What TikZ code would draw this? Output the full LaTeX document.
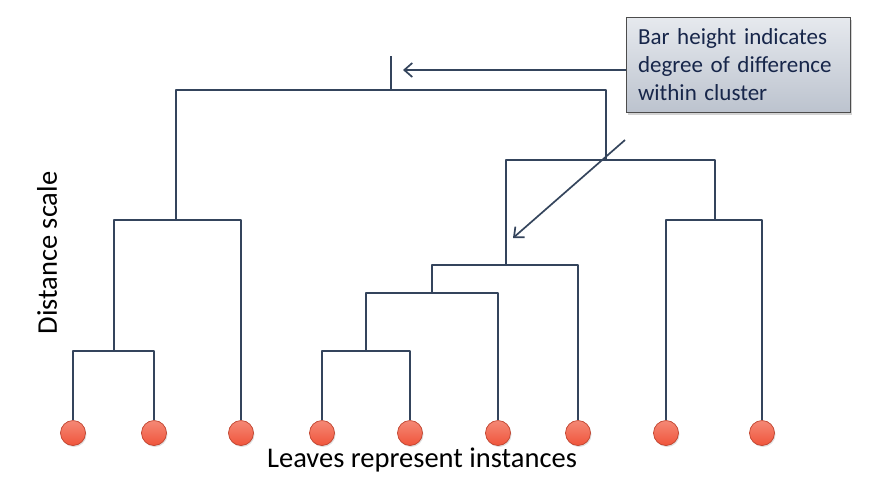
\documentclass[tikz,border=0pt]{standalone}
\usepackage{fontspec}
\setmainfont{Carlito}
\usetikzlibrary{arrows.meta,shadows}

\definecolor{barcol}{HTML}{34445C}
\definecolor{leafcol}{HTML}{F0553B}
\definecolor{notetext}{HTML}{17264A}
\definecolor{notetop}{HTML}{E6E9EE}
\definecolor{notebot}{HTML}{BCC3CE}

\tikzset{
  bar/.style={draw=barcol, line width=2pt, line join=round},
  leaf/.style={circle, minimum size=25pt, inner sep=0pt, draw=leafcol!80!black, line width=0.7pt,
    top color=leafcol!70!white, bottom color=leafcol, drop shadow={opacity=0.25, shadow xshift=1pt, shadow yshift=-1.5pt}},
  pointer/.style={draw=barcol, line width=1.7pt, -{Straight Barb[length=8pt, width=14pt]}},
  notebox/.style={draw=black!70, line width=1pt, top color=notetop, bottom color=notebot,
    minimum width=224pt, minimum height=95pt, text width=200pt, align=left, text=notetext,
    font=\fontsize{23}{28}\selectfont, drop shadow={opacity=0.35, shadow xshift=2pt, shadow yshift=-2pt}},
  label/.style={font=\fontsize{28.5}{32}\selectfont, text=black, inner sep=0pt}
}

\begin{document}
\begin{tikzpicture}[x=1pt, y=-1pt]
\useasboundingbox (0,0) rectangle (876,480);

% leaves
\foreach \x [count=\i] in {73,154,241,322,410,498,578,666,762}
  \node [leaf] (l\i) at (\x,433) {};

% junctions
\coordinate (a) at (114,351);
\coordinate (b) at (176,220);
\coordinate (c) at (366,351);
\coordinate (d) at (432,293);
\coordinate (e) at (506,265);
\coordinate (g) at (715,220);
\coordinate (f) at (606,160);
\coordinate (top) at (391,90);
\coordinate (tip) at (391,56);

\draw [bar] (l1.north) |- (a) -| (l2.north);
\draw [bar] (a) |- (b) -| (l3.north);
\draw [bar] (l4.north) |- (c) -| (l5.north);
\draw [bar] (c) |- (d) -| (l6.north);
\draw [bar] (d) |- (e) -| (l7.north);
\draw [bar] (l8.north) |- (g) -| (l9.north);
\draw [bar] (e) |- (f) -| (g);
\draw [bar] (b) |- (top) -| (f);
\draw [bar] (top) -- (tip);

% note and pointers
\node [notebox] (note) at (738,65) {Bar height indicates\\degree of difference\\within cluster};
\coordinate (tip1) at (403,70);
\coordinate (tail2) at (625,140);
\coordinate (tip2) at (513,238);
\draw [pointer] (note.west |- tip1) -- (tip1);
\draw [pointer] (tail2) -- (tip2);

% axis texts
\node [label, rotate=90] (scale) at (47,253) {Distance scale};
\node [label] (leaves) at (422,460) {Leaves represent instances};
\end{tikzpicture}
\end{document}
